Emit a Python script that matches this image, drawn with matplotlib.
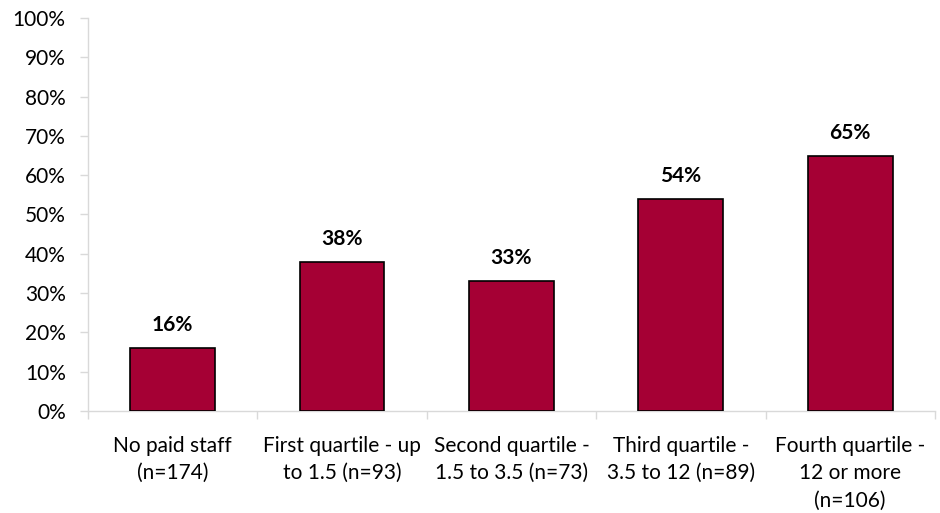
import matplotlib
matplotlib.use("Agg")
import matplotlib.pyplot as plt
from matplotlib.ticker import MultipleLocator, FuncFormatter

categories = ["No paid staff\n(n=174)", "First quartile - up\nto 1.5 (n=93)",
              "Second quartile -\n1.5 to 3.5 (n=73)", "Third quartile -\n3.5 to 12 (n=89)",
              "Fourth quartile -\n12 or more\n(n=106)"]
values = [16, 38, 33, 54, 65]
value_labels = ["16%", "38%", "33%", "54%", "65%"]

plt.rcParams['font.family'] = ['Lato', 'DejaVu Sans']

fig = plt.figure(figsize=(9.4, 5.13), dpi=100)
ax = fig.add_axes([0.0936, 0.1988, 0.901, 0.7662])

x = list(range(len(categories)))
bars = ax.bar(x, values, width=0.5, color="#A50034", edgecolor="black", linewidth=1.2, zorder=3)
for xi, v, lab in zip(x, values, value_labels):
    ax.text(xi, v + 3.3, lab, ha="center", va="bottom", fontsize=15, fontweight="bold", color="black")

ax.set_xlim(-0.5, len(categories) - 0.5)
ax.set_ylim(0, 100)
ax.yaxis.set_major_locator(MultipleLocator(10))
ax.yaxis.set_major_formatter(FuncFormatter(lambda v, p: f"{int(v)}%"))

ax.set_xticks([i - 0.5 for i in range(len(categories) + 1)], minor=False)
ax.set_xticklabels([])
ax.set_xticks(x, minor=True)
ax.set_xticklabels(categories, minor=True, fontsize=15, linespacing=1.45)
ax.tick_params(axis="x", which="minor", length=0, pad=18)
ax.tick_params(axis="x", which="major", length=6, color="#D9D9D9", width=1)
ax.tick_params(axis="y", length=6, color="#D9D9D9", width=1, labelsize=15, pad=10)

for s in ["top", "right"]:
    ax.spines[s].set_visible(False)
for s in ["left", "bottom"]:
    ax.spines[s].set_color("#D9D9D9")
    ax.spines[s].set_linewidth(1)

fig.savefig("out.png", dpi=100)
